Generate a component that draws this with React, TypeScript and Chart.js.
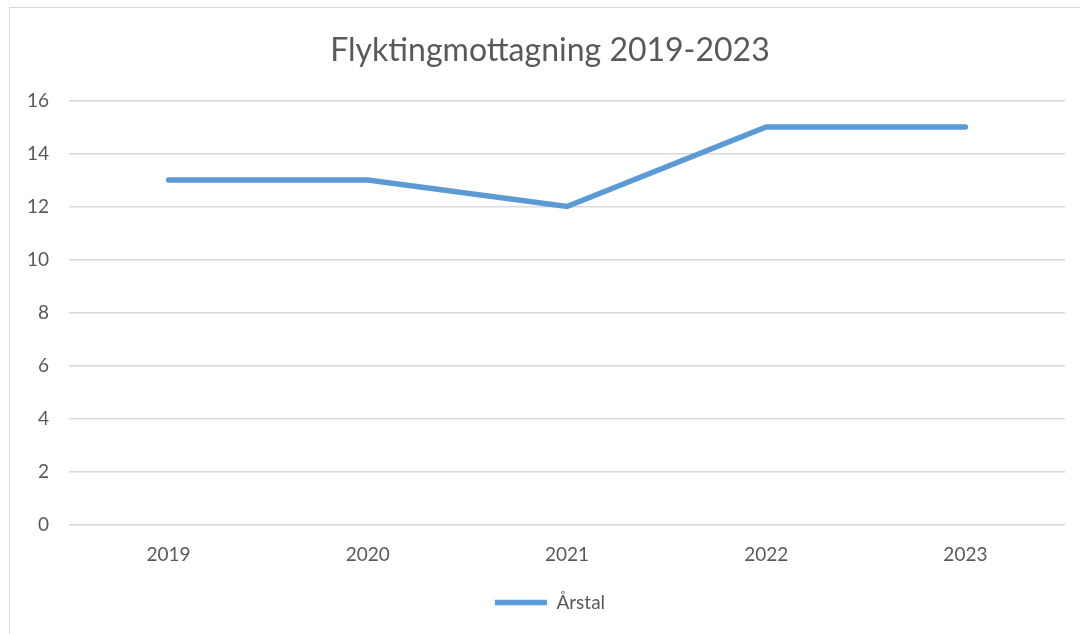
import React, { useEffect, useRef } from "react";
import { Chart, registerables } from "chart.js";

Chart.register(...registerables);

const titleText = "Flyktingmottagning 2019-2023";
const categories = ["2019", "2020", "2021", "2022", "2023"];
const seriesName = "Årstal";
const seriesValues = [13, 13, 12, 15, 15];
const yMin = 0;
const yMax = 16;
const yStep = 2;

const FONT = "Lato, 'Open Sans', sans-serif";
const TEXT = "#595959";
const GRID = "#D9D9D9";
const BLUE = "#5B9BD5";

const noLabelClip = {
  id: "noLabelClip",
  afterLayout(c: any) {
    const y = c.scales && c.scales.y;
    if (y) y._computeLabelArea = () => undefined;
  },
};

export default function App() {
  const ref = useRef<HTMLCanvasElement | null>(null);

  useEffect(() => {
    if (!ref.current) return;
    const chart = new Chart(ref.current, {
      type: "line",
      data: {
        labels: categories,
        datasets: [
          {
            label: seriesName,
            data: seriesValues,
            borderColor: BLUE,
            backgroundColor: BLUE,
            borderWidth: 5.5,
            borderCapStyle: "round",
            borderJoinStyle: "miter",
            pointRadius: 0,
            pointHoverRadius: 0,
            tension: 0,
            fill: false,
          },
        ],
      },
      options: {
        animation: false,
        responsive: false,
        maintainAspectRatio: false,
        layout: { padding: { left: 35, right: 15, top: 0, bottom: 12 } },
        plugins: {
          title: {
            display: true,
            text: titleText,
            color: TEXT,
            font: { family: FONT, size: 32, weight: "normal" },
            padding: { top: 31, bottom: 31 },
          },
          legend: {
            display: true,
            position: "bottom",
            labels: {
              color: TEXT,
              font: { family: FONT, size: 19 },
              usePointStyle: true,
              pointStyle: "line",
              pointStyleWidth: 52,
              padding: 10,
            },
          },
          tooltip: { enabled: false },
        },
        scales: {
          x: {
            offset: true,
            grid: { display: false, drawTicks: false },
            border: { display: false },
            ticks: {
              color: TEXT,
              font: { family: FONT, size: 19 },
              padding: 18,
              maxRotation: 0,
            },
            afterFit: (s: any) => {
              s.height = 58;
            },
          },
          y: {
            min: yMin,
            max: yMax,
            ticks: {
              stepSize: yStep,
              color: TEXT,
              font: { family: FONT, size: 19 },
              padding: 20,
            },
            grid: { color: GRID, lineWidth: 1.5, drawTicks: false },
            border: { display: false },
            afterFit: (s: any) => {
              s.width = 34;
            },
          },
        },
      },
      plugins: [noLabelClip],
    });
    return () => chart.destroy();
  }, []);

  return (
    <div style={{ position: "fixed", left: 0, top: 0, width: 1080, height: 634, background: "#fff" }}>
      <div
        style={{
          position: "absolute",
          left: 9,
          top: 7,
          width: 1100,
          height: 700,
          border: "1.5px solid #D9D9D9",
          boxSizing: "border-box",
        }}
      />
      <canvas ref={ref} width={1080} height={634} style={{ position: "absolute", left: 0, top: 0, width: 1080, height: 634 }} />
    </div>
  );
}
